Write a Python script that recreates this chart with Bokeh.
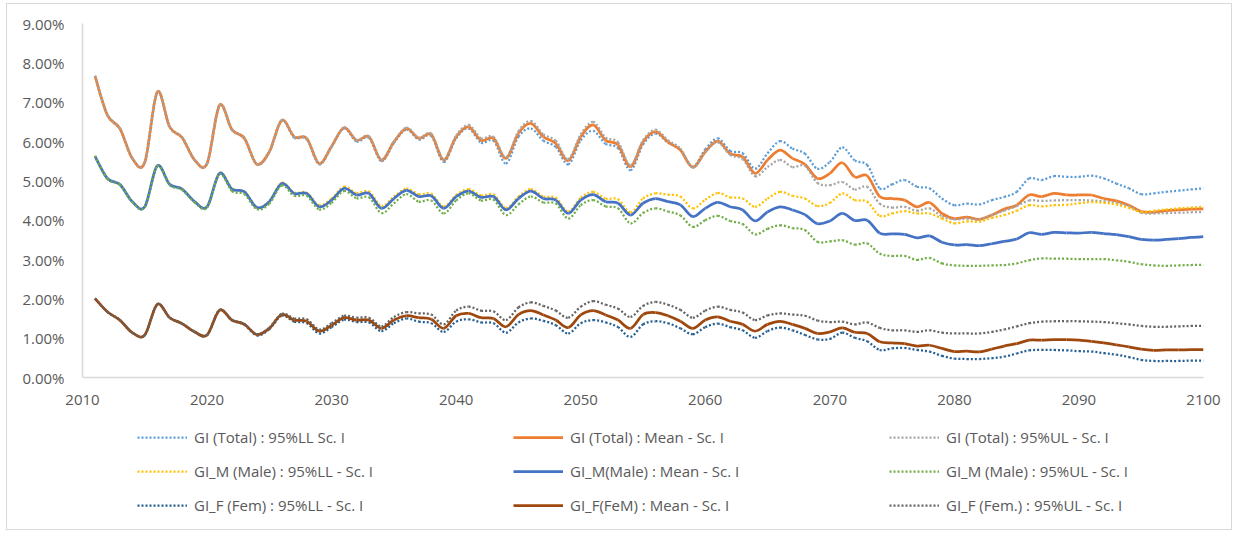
from bokeh.embed import file_html
from bokeh.layouts import column
from bokeh.models import FixedTicker, PrintfTickFormatter, Range1d
from bokeh.plotting import figure
from bokeh.resources import INLINE

years = list(range(2011, 2101))

total_ll = [
    7.67, 6.67, 6.33, 5.57, 5.47, 7.25, 6.37, 6.10, 5.53, 5.44,
    6.92, 6.30, 6.08, 5.42, 5.74, 6.53, 6.10, 6.06, 5.42, 5.86,
    6.33, 6.00, 6.09, 5.50, 5.96, 6.30, 6.05, 6.14, 5.48, 6.08,
    6.33, 5.97, 6.02, 5.44, 6.12, 6.33, 6.02, 5.86, 5.42, 6.03,
    6.27, 5.94, 5.83, 5.27, 5.92, 6.20, 5.97, 5.78, 5.36, 5.80,
    6.08, 5.76, 5.70, 5.31, 5.70, 6.01, 5.82, 5.69, 5.31, 5.48,
    5.85, 5.52, 5.40, 4.81, 4.91, 5.02, 4.85, 4.81, 4.55, 4.38,
    4.42, 4.40, 4.51, 4.59, 4.72, 5.06, 5.02, 5.12, 5.10, 5.10,
    5.13, 5.06, 4.93, 4.81, 4.66, 4.68, 4.72, 4.75, 4.78, 4.81]
total_mean = [
    7.67, 6.67, 6.33, 5.57, 5.47, 7.26, 6.37, 6.10, 5.53, 5.44,
    6.92, 6.30, 6.08, 5.42, 5.74, 6.54, 6.12, 6.08, 5.44, 5.88,
    6.35, 6.03, 6.12, 5.53, 5.99, 6.33, 6.08, 6.18, 5.53, 6.12,
    6.37, 6.03, 6.08, 5.57, 6.21, 6.46, 6.12, 5.95, 5.51, 6.12,
    6.42, 6.03, 5.91, 5.36, 5.99, 6.25, 5.99, 5.78, 5.34, 5.74,
    6.01, 5.69, 5.61, 5.19, 5.53, 5.78, 5.57, 5.42, 5.06, 5.19,
    5.46, 5.10, 5.13, 4.60, 4.55, 4.51, 4.34, 4.45, 4.17, 4.04,
    4.08, 4.02, 4.13, 4.28, 4.38, 4.64, 4.60, 4.68, 4.64, 4.64,
    4.64, 4.55, 4.49, 4.38, 4.22, 4.20, 4.24, 4.26, 4.28, 4.29]
total_ul = [
    7.67, 6.67, 6.33, 5.57, 5.47, 7.26, 6.37, 6.10, 5.53, 5.44,
    6.92, 6.30, 6.08, 5.42, 5.74, 6.54, 6.12, 6.08, 5.44, 5.88,
    6.36, 6.04, 6.13, 5.54, 6.00, 6.35, 6.10, 6.20, 5.55, 6.15,
    6.42, 6.08, 6.12, 5.60, 6.26, 6.52, 6.18, 6.02, 5.55, 6.18,
    6.50, 6.10, 5.98, 5.40, 6.03, 6.30, 6.03, 5.82, 5.34, 5.72,
    5.98, 5.66, 5.55, 5.12, 5.35, 5.53, 5.35, 5.38, 4.95, 4.89,
    4.97, 4.78, 4.85, 4.42, 4.32, 4.34, 4.24, 4.30, 4.10, 4.02,
    4.04, 4.02, 4.13, 4.24, 4.36, 4.50, 4.49, 4.50, 4.51, 4.51,
    4.50, 4.48, 4.44, 4.36, 4.19, 4.17, 4.18, 4.19, 4.20, 4.21]

male_ll = [
    5.63, 5.06, 4.91, 4.47, 4.34, 5.38, 4.91, 4.79, 4.47, 4.35,
    5.20, 4.80, 4.73, 4.33, 4.49, 4.95, 4.70, 4.70, 4.38, 4.55,
    4.85, 4.69, 4.73, 4.36, 4.60, 4.80, 4.66, 4.67, 4.35, 4.64,
    4.79, 4.63, 4.65, 4.31, 4.60, 4.79, 4.60, 4.57, 4.22, 4.57,
    4.72, 4.55, 4.53, 4.20, 4.55, 4.68, 4.65, 4.60, 4.30, 4.52,
    4.69, 4.58, 4.55, 4.34, 4.55, 4.72, 4.62, 4.55, 4.36, 4.44,
    4.68, 4.51, 4.47, 4.11, 4.17, 4.23, 4.17, 4.17, 4.04, 3.92,
    3.97, 3.96, 4.06, 4.13, 4.24, 4.38, 4.35, 4.38, 4.39, 4.43,
    4.46, 4.44, 4.40, 4.31, 4.21, 4.24, 4.27, 4.30, 4.32, 4.34]
male_mean = [
    5.63, 5.06, 4.91, 4.47, 4.34, 5.38, 4.91, 4.79, 4.47, 4.34,
    5.19, 4.79, 4.72, 4.32, 4.47, 4.93, 4.68, 4.68, 4.34, 4.51,
    4.81, 4.64, 4.68, 4.30, 4.55, 4.76, 4.60, 4.62, 4.30, 4.60,
    4.74, 4.58, 4.60, 4.26, 4.55, 4.74, 4.55, 4.51, 4.17, 4.51,
    4.65, 4.47, 4.43, 4.13, 4.43, 4.55, 4.47, 4.39, 4.09, 4.30,
    4.45, 4.34, 4.26, 3.98, 4.21, 4.34, 4.26, 4.14, 3.91, 3.98,
    4.17, 3.99, 4.00, 3.67, 3.65, 3.64, 3.55, 3.60, 3.44, 3.37,
    3.38, 3.35, 3.40, 3.46, 3.52, 3.68, 3.64, 3.69, 3.68, 3.67,
    3.69, 3.66, 3.63, 3.58, 3.51, 3.49, 3.51, 3.53, 3.56, 3.58]
male_ul = [
    5.63, 5.05, 4.90, 4.46, 4.33, 5.37, 4.89, 4.77, 4.45, 4.32,
    5.17, 4.74, 4.66, 4.28, 4.42, 4.88, 4.62, 4.62, 4.27, 4.44,
    4.74, 4.56, 4.58, 4.18, 4.43, 4.66, 4.47, 4.50, 4.17, 4.50,
    4.68, 4.50, 4.52, 4.13, 4.40, 4.60, 4.45, 4.42, 4.04, 4.38,
    4.51, 4.35, 4.30, 3.92, 4.18, 4.30, 4.22, 4.12, 3.83, 4.00,
    4.11, 3.98, 3.90, 3.64, 3.78, 3.87, 3.80, 3.75, 3.45, 3.46,
    3.49, 3.38, 3.41, 3.15, 3.09, 3.09, 2.99, 3.04, 2.90, 2.85,
    2.84, 2.84, 2.85, 2.86, 2.90, 2.98, 3.03, 3.02, 3.02, 3.01,
    3.01, 3.01, 2.98, 2.94, 2.88, 2.85, 2.84, 2.85, 2.86, 2.86]

female_ll = [
    2.01, 1.67, 1.46, 1.14, 1.08, 1.86, 1.52, 1.37, 1.16, 1.08,
    1.71, 1.45, 1.34, 1.07, 1.23, 1.57, 1.42, 1.38, 1.12, 1.28,
    1.47, 1.41, 1.40, 1.18, 1.38, 1.50, 1.42, 1.38, 1.16, 1.42,
    1.48, 1.40, 1.38, 1.14, 1.40, 1.50, 1.44, 1.33, 1.12, 1.38,
    1.46, 1.40, 1.28, 1.03, 1.35, 1.43, 1.38, 1.25, 1.10, 1.28,
    1.37, 1.28, 1.20, 1.01, 1.18, 1.27, 1.20, 1.08, 0.97, 0.98,
    1.14, 1.01, 0.92, 0.70, 0.74, 0.75, 0.70, 0.66, 0.55, 0.48,
    0.47, 0.47, 0.49, 0.53, 0.61, 0.69, 0.70, 0.70, 0.69, 0.67,
    0.66, 0.62, 0.58, 0.52, 0.45, 0.42, 0.42, 0.42, 0.43, 0.43]
female_mean = [
    2.01, 1.67, 1.46, 1.14, 1.08, 1.86, 1.52, 1.37, 1.16, 1.08,
    1.71, 1.46, 1.35, 1.09, 1.25, 1.60, 1.46, 1.43, 1.18, 1.33,
    1.52, 1.46, 1.46, 1.25, 1.46, 1.57, 1.52, 1.48, 1.25, 1.57,
    1.63, 1.52, 1.50, 1.29, 1.60, 1.70, 1.59, 1.46, 1.27, 1.59,
    1.70, 1.59, 1.46, 1.25, 1.60, 1.65, 1.57, 1.43, 1.25, 1.46,
    1.54, 1.43, 1.35, 1.18, 1.35, 1.43, 1.35, 1.25, 1.12, 1.16,
    1.26, 1.15, 1.12, 0.91, 0.88, 0.86, 0.80, 0.82, 0.74, 0.66,
    0.67, 0.65, 0.72, 0.80, 0.86, 0.95, 0.95, 0.96, 0.96, 0.95,
    0.92, 0.88, 0.83, 0.78, 0.72, 0.69, 0.70, 0.70, 0.71, 0.71]
female_ul = [
    2.01, 1.67, 1.46, 1.14, 1.08, 1.86, 1.52, 1.37, 1.16, 1.08,
    1.72, 1.47, 1.36, 1.10, 1.27, 1.62, 1.50, 1.48, 1.22, 1.38,
    1.57, 1.52, 1.52, 1.30, 1.54, 1.66, 1.63, 1.60, 1.35, 1.70,
    1.80, 1.70, 1.68, 1.46, 1.78, 1.91, 1.82, 1.70, 1.52, 1.80,
    1.94, 1.85, 1.75, 1.54, 1.82, 1.92, 1.85, 1.72, 1.52, 1.70,
    1.80, 1.72, 1.65, 1.46, 1.58, 1.63, 1.60, 1.57, 1.45, 1.41,
    1.42, 1.35, 1.40, 1.26, 1.20, 1.20, 1.16, 1.20, 1.14, 1.12,
    1.12, 1.12, 1.16, 1.22, 1.30, 1.38, 1.42, 1.43, 1.43, 1.43,
    1.42, 1.41, 1.38, 1.35, 1.31, 1.29, 1.29, 1.30, 1.31, 1.31]

x_ticks = list(range(2010, 2101, 10))
y_ticks = list(range(0, 10))

FONT = "Open Sans"
TEXT = "#595959"
BORDER = "1px solid #d9d9d9"

# (label, values, color, dotted)
series = [
    ("GI (Total) : 95%LL Sc. I", total_ll, "#5B9BD5", True),
    ("GI (Total) : Mean - Sc. I", total_mean, "#ED7D31", False),
    ("GI (Total) : 95%UL - Sc. I", total_ul, "#A5A5A5", True),
    ("GI_M (Male) : 95%LL - Sc. I", male_ll, "#FFC000", True),
    ("GI_M(Male) : Mean - Sc. I", male_mean, "#4472C4", False),
    ("GI_M (Male) : 95%UL - Sc. I", male_ul, "#70AD47", True),
    ("GI_F (Fem) : 95%LL - Sc. I", female_ll, "#255E91", True),
    ("GI_F(FeM) : Mean - Sc. I", female_mean, "#9E480E", False),
    ("GI_F (Fem.) : 95%UL - Sc. I", female_ul, "#636363", True),
]


def smooth_segments(xs, ys):
    # Excel-style smoothed line: one cubic bezier per pair of points,
    # control points from the neighbouring points (Catmull-Rom)
    n = len(xs)
    seg = dict(x0=[], y0=[], x1=[], y1=[], cx0=[], cy0=[], cx1=[], cy1=[])
    for i in range(n - 1):
        a = max(i - 1, 0)
        d = min(i + 2, n - 1)
        seg['x0'].append(xs[i])
        seg['y0'].append(ys[i])
        seg['x1'].append(xs[i + 1])
        seg['y1'].append(ys[i + 1])
        seg['cx0'].append(xs[i] + (xs[i + 1] - xs[a]) / 6)
        seg['cy0'].append(ys[i] + (ys[i + 1] - ys[a]) / 6)
        seg['cx1'].append(xs[i + 1] - (xs[d] - xs[i]) / 6)
        seg['cy1'].append(ys[i + 1] - (ys[d] - ys[i]) / 6)
    return seg


def style(dotted):
    if dotted:
        return dict(line_width=2.25, line_dash="2 2")
    return dict(line_width=2.75, line_dash="solid")


# main chart
p = figure(width=1226, height=414,
           toolbar_location=None, tools="",
           output_backend="svg",
           min_border_left=75, min_border_right=30,
           min_border_top=19, min_border_bottom=41)
p.x_range = Range1d(2010, 2100)
p.y_range = Range1d(0, 9)
p.outline_line_color = None
p.xgrid.grid_line_color = None
p.ygrid.grid_line_color = None
p.styles = {"border-top": BORDER, "border-left": BORDER,
            "border-right": BORDER}

for label, vals, color, dotted in series:
    p.bezier(source=smooth_segments(years, vals),
             x0='x0', y0='y0', x1='x1', y1='y1',
             cx0='cx0', cy0='cy0', cx1='cx1', cy1='cy1',
             line_color=color, **style(dotted))

p.xaxis.ticker = FixedTicker(ticks=x_ticks)
p.yaxis.ticker = FixedTicker(ticks=y_ticks)
p.yaxis.formatter = PrintfTickFormatter(format="%.2f%%")
for ax in (p.xaxis[0], p.yaxis[0]):
    ax.axis_line_color = "#d9d9d9"
    ax.axis_line_width = 1.5
    ax.major_tick_line_color = None
    ax.minor_tick_line_color = None
    ax.major_tick_in = 0
    ax.major_tick_out = 0
    ax.minor_tick_out = 0
    ax.major_label_text_font = FONT
    ax.major_label_text_font_size = "15px"
    ax.major_label_text_color = TEXT
p.xaxis.major_label_standoff = 17
p.yaxis.major_label_standoff = 18

# legend strip under the chart; its lines sit outside the strip's ranges,
# only the legend samples show
lp = figure(width=1226, height=113,
            toolbar_location=None, tools="",
            output_backend="svg",
            x_axis_type=None, y_axis_type=None,
            min_border=0)
lp.x_range = Range1d(0, 1)
lp.y_range = Range1d(0, 1)
lp.outline_line_color = None
lp.xgrid.grid_line_color = None
lp.ygrid.grid_line_color = None
lp.styles = {"border-bottom": BORDER, "border-left": BORDER,
             "border-right": BORDER}

for label, vals, color, dotted in series:
    lp.line(years, vals, line_color=color, legend_label=label,
            **style(dotted))

leg = lp.legend[0]
leg.location = (55, 15)
leg.orientation = "horizontal"
leg.ncols = 3
leg.glyph_width = 50
leg.glyph_height = 20
leg.label_height = 20
leg.label_width = 305
leg.label_standoff = 7
leg.spacing = 14
leg.padding = 5
leg.margin = 0
leg.border_line_color = None
leg.background_fill_alpha = 0
leg.label_text_font = FONT
leg.label_text_font_size = "15px"
leg.label_text_color = TEXT

layout = column(p, lp, styles={"margin-left": "6px", "margin-top": "3px"})
open("out.html", "w").write(file_html(layout, INLINE))
